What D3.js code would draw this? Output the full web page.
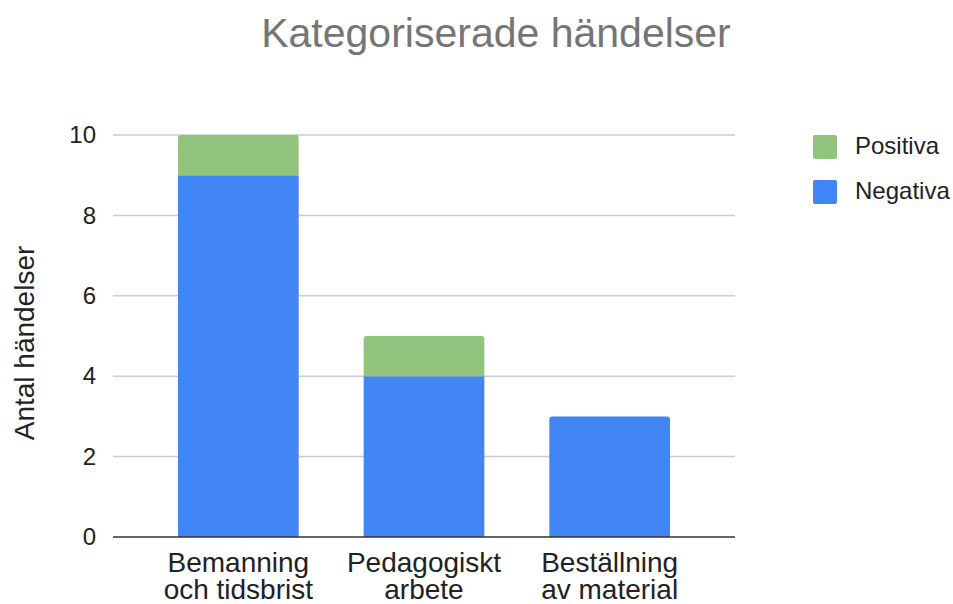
<!DOCTYPE html>
<html lang="sv">
<head>
    <meta charset="UTF-8">
    <title>Kategoriserade händelser</title>
    <script src="https://d3js.org/d3.v7.min.js"></script>
    <style>
        body { margin: 0; background: #fff; }
        text { font-family: "Liberation Sans", Arial, sans-serif; }
    </style>
</head>
<body>
<svg width="953" height="604"></svg>
<script>
    const categories = [["Bemanning", "och tidsbrist"], ["Pedagogiskt", "arbete"], ["Beställning", "av material"]]
    const negativa = [9, 4, 3]
    const positiva = [1, 1, 0]
    const seriesNames = ["Positiva", "Negativa"]
    const seriesColors = {Negativa: "#4285f4", Positiva: "#93c47d"}
    const yTicks = [0, 2, 4, 6, 8, 10]

    let svg = d3.select('svg')
    let plotLeft = 113, plotRight = 735, plotTop = 135, plotBottom = 537

    let rows = categories.map((c, i) => ({key: i, label: c, Negativa: negativa[i], Positiva: positiva[i]}))

    let x = d3.scaleBand()
        .domain(rows.map(d => d.key))
        .range([178, 670])
        .paddingInner(0.35)
        .paddingOuter(0)

    let y = d3.scaleLinear().domain([0, 10]).range([plotBottom, plotTop])

    // grid
    svg.append("g")
        .selectAll("line")
        .data(yTicks.filter(t => t > 0))
        .enter()
        .append("line")
        .attr("x1", plotLeft).attr("x2", plotRight)
        .attr("y1", d => y(d)).attr("y2", d => y(d))
        .attr("stroke", "#cccccc")
        .attr("stroke-width", 1.5)

    // y tick labels
    let yAxis = svg.append("g")
        .attr("transform", `translate(${plotLeft},0)`)
        .call(d3.axisLeft(y).tickValues(yTicks).tickSize(0).tickPadding(17).tickFormat(d3.format("d")))
    yAxis.select(".domain").remove()
    yAxis.selectAll("text")
        .attr("font-size", 24)
        .attr("fill", "#222")
        .style("font-family", "'Liberation Sans', Arial, sans-serif")

    // stacked bars
    let stack = d3.stack().keys(["Negativa", "Positiva"])(rows)
    let r = 3
    stack.forEach(function(layer) {
        svg.append("g")
            .selectAll("path")
            .data(layer.filter(d => d[1] > d[0]))
            .enter()
            .append("path")
            .attr("fill", seriesColors[layer.key])
            .attr("d", function(d) {
                let x0 = x(d.data.key), x1 = x0 + x.bandwidth()
                let y0 = y(d[0]), y1 = y(d[1])
                let isTop = d[1] === d.data.Negativa + d.data.Positiva
                let rr = isTop ? r : 0
                return `M${x0},${y0} L${x0},${y1 + rr} Q${x0},${y1} ${x0 + rr},${y1} L${x1 - rr},${y1} Q${x1},${y1} ${x1},${y1 + rr} L${x1},${y0} Z`
            })
    })

    // baseline
    svg.append("line")
        .attr("x1", plotLeft).attr("x2", plotRight)
        .attr("y1", y(0)).attr("y2", y(0))
        .attr("stroke", "#333")
        .attr("stroke-width", 1.5)

    // category labels
    let catLabels = svg.append("g")
        .selectAll("text")
        .data(rows)
        .enter()
        .append("text")
        .attr("text-anchor", "middle")
        .attr("font-size", 28)
        .attr("fill", "#222")
    catLabels.each(function(d) {
        let t = d3.select(this)
        d.label.forEach(function(line, i) {
            t.append("tspan")
                .attr("x", x(d.key) + x.bandwidth() / 2)
                .attr("y", 572 + i * 27)
                .text(line)
        })
    })

    // title
    svg.append("text")
        .attr("x", 496)
        .attr("y", 47)
        .attr("text-anchor", "middle")
        .attr("font-size", 41)
        .attr("fill", "#757575")
        .text("Kategoriserade händelser")

    // y axis title
    svg.append("text")
        .attr("transform", `translate(34,343) rotate(-90)`)
        .attr("text-anchor", "middle")
        .attr("font-size", 28)
        .attr("fill", "#222")
        .text("Antal händelser")

    // legend
    let legend = svg.append("g")
        .selectAll("g")
        .data(seriesNames)
        .enter()
        .append("g")
        .attr("transform", (d, i) => `translate(813,${135 + i * 45})`)
    legend.append("rect")
        .attr("width", 24).attr("height", 24)
        .attr("rx", 2)
        .attr("fill", d => seriesColors[d])
    legend.append("text")
        .attr("x", 42).attr("y", 19)
        .attr("font-size", 24)
        .attr("fill", "#222")
        .text(d => d)
</script>
</body>
</html>
